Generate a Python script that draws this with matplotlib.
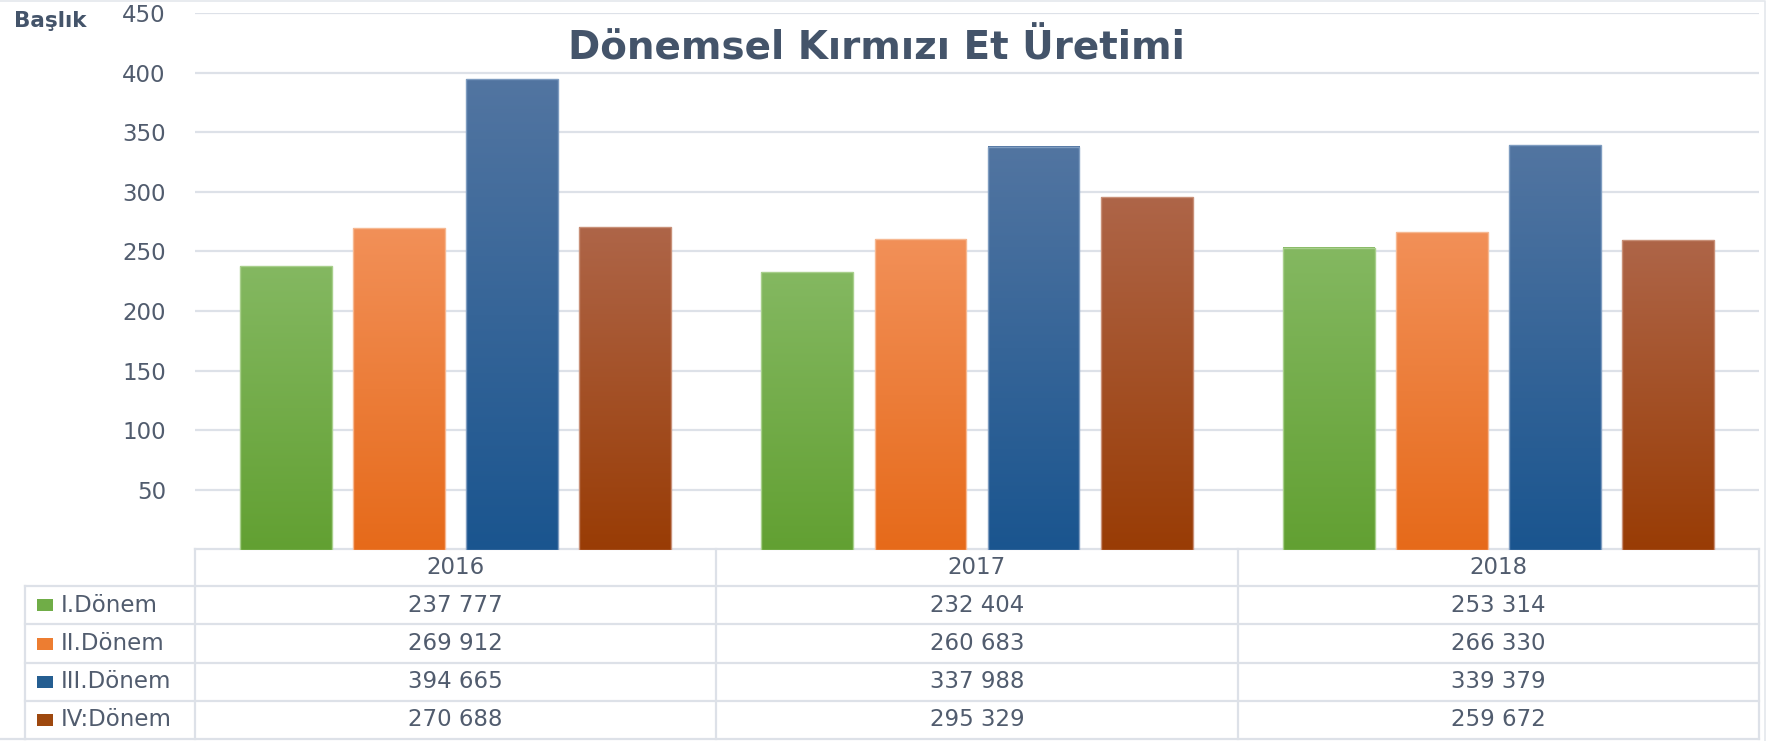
import numpy as np
import matplotlib
matplotlib.use("Agg")
import matplotlib.pyplot as plt
import matplotlib.transforms as mtransforms
from matplotlib.colors import LinearSegmentedColormap
from matplotlib.patches import Rectangle

# ---------------- data ----------------
years = ["2016", "2017", "2018"]
series_names = ["I.Dönem", "II.Dönem", "III.Dönem", "IV:Dönem"]
donem_1 = [237777, 232404, 253314]
donem_2 = [269912, 260683, 266330]
donem_3 = [394665, 337988, 339379]
donem_4 = [270688, 295329, 259672]
y_ticks = [50, 100, 150, 200, 250, 300, 350, 400, 450]
title = "Dönemsel Kırmızı Et Üretimi"
axis_title = "Başlık"

series = [donem_1, donem_2, donem_3, donem_4]
# gradient (bottom, top) and legend colours
grad = [("#62A032", "#84B861"), ("#E66A1A", "#F29058"),
        ("#1A558F", "#5275A1"), ("#993C05", "#AE6548")]
edge_cols = ["#A8CF8C", "#F6B892", "#7E9CC0", "#C89078"]
legend_cols = ["#70AD47", "#ED7D31", "#255E91", "#9E480E"]

TXT = "#515C6E"
TITLE_C = "#44546A"
LINE_C = "#DDE1E8"
FONT = ["DejaVu Sans"]
plt.rcParams["font.family"] = FONT

W, H = 1766, 741
fig = plt.figure(figsize=(W / 100, H / 100), dpi=100)

x_left, x_right = 195, 1759
y_zero, y_top = 549.6, 13
ax = fig.add_axes([x_left / W, (H - y_zero) / H, (x_right - x_left) / W, (y_zero - y_top) / H])
ax.set_facecolor("none")

n = len(series)
bar_w = 0.176
step = 0.217
xs = np.arange(len(years))
for i, vals in enumerate(series):
    v = np.array(vals) / 1000.0
    pos = xs + (i - (n - 1) / 2) * step
    bars = ax.bar(pos, v, width=bar_w, facecolor="none", edgecolor=edge_cols[i],
                  linewidth=1.0, zorder=3)
    cmap = LinearSegmentedColormap.from_list(f"g{i}", [grad[i][0], grad[i][1]])
    for b in bars:
        x0 = b.get_x()
        w = b.get_width()
        h = b.get_height()
        ax.imshow(np.linspace(0, 1, 256).reshape(-1, 1), cmap=cmap, origin="lower",
                  extent=[x0, x0 + w, 0, h], aspect="auto", zorder=2,
                  interpolation="bilinear")

ax.set_xlim(-0.5, len(years) - 0.5)
ax.set_ylim(0, 450)
ax.set_yticks(y_ticks)
ax.set_yticklabels([str(t) for t in y_ticks])
ax.set_xticks([])
ax.tick_params(axis="y", length=0, pad=21, labelsize=16.5, labelcolor=TXT)
for s in ax.spines.values():
    s.set_visible(False)
ax.yaxis.grid(True, color=LINE_C, linewidth=1.6, zorder=0)
ax.set_axisbelow(True)

# ---------------- table / texts in figure pixel space ----------------
tax = fig.add_axes([0, 0, 1, 1], zorder=-1)
tax.set_xlim(0, W)
tax.set_ylim(H, 0)
tax.axis("off")
tr = mtransforms.blended_transform_factory(ax.transData, tax.transData)

lw = 1.6
row_y = [549, 586, 624, 663, 701, 739]
# header top line
tax.plot([-0.5, 2.5], [row_y[0]] * 2, color=LINE_C, lw=lw, transform=tr, clip_on=False)
for yy in row_y[1:]:
    tax.plot([25, x_right], [yy, yy], color=LINE_C, lw=lw, clip_on=False)
tax.plot([25, 25], [row_y[1], row_y[-1]], color=LINE_C, lw=lw)
for xe in [-0.5, 0.5, 1.5, 2.5]:
    tax.plot([xe, xe], [row_y[0], row_y[-1]], color=LINE_C, lw=lw, transform=tr, clip_on=False)
# outer frame
tax.plot([0, W - 1, W - 1], [1, 1, H], color="#E4E7EC", lw=1.2)
tax.plot([0, 25], [row_y[-1], row_y[-1]], color=LINE_C, lw=lw)

fs = 16.5
for j, yr in enumerate(years):
    tax.text(j, (row_y[0] + row_y[1]) / 2, yr, transform=tr, ha="center", va="center",
             fontsize=fs, color=TXT)
for i, (name, vals) in enumerate(zip(series_names, series)):
    yc = (row_y[i + 1] + row_y[i + 2]) / 2
    tax.add_patch(Rectangle((37, yc - 6), 16, 12, facecolor=legend_cols[i], edgecolor="none"))
    tax.text(61, yc, name, ha="left", va="center", fontsize=fs, color=TXT)
    for j, v in enumerate(vals):
        tax.text(j, yc, f"{v:,}".replace(",", " "), transform=tr, ha="center", va="center",
                 fontsize=fs, color=TXT)

tax.text(876, 59, title, ha="center", va="baseline", fontsize=28, fontweight="bold",
         color=TITLE_C)
tax.text(14, 27, axis_title, ha="left", va="baseline", fontsize=15.5, fontweight="bold",
         color=TITLE_C)

fig.savefig("out.png", dpi=100)
